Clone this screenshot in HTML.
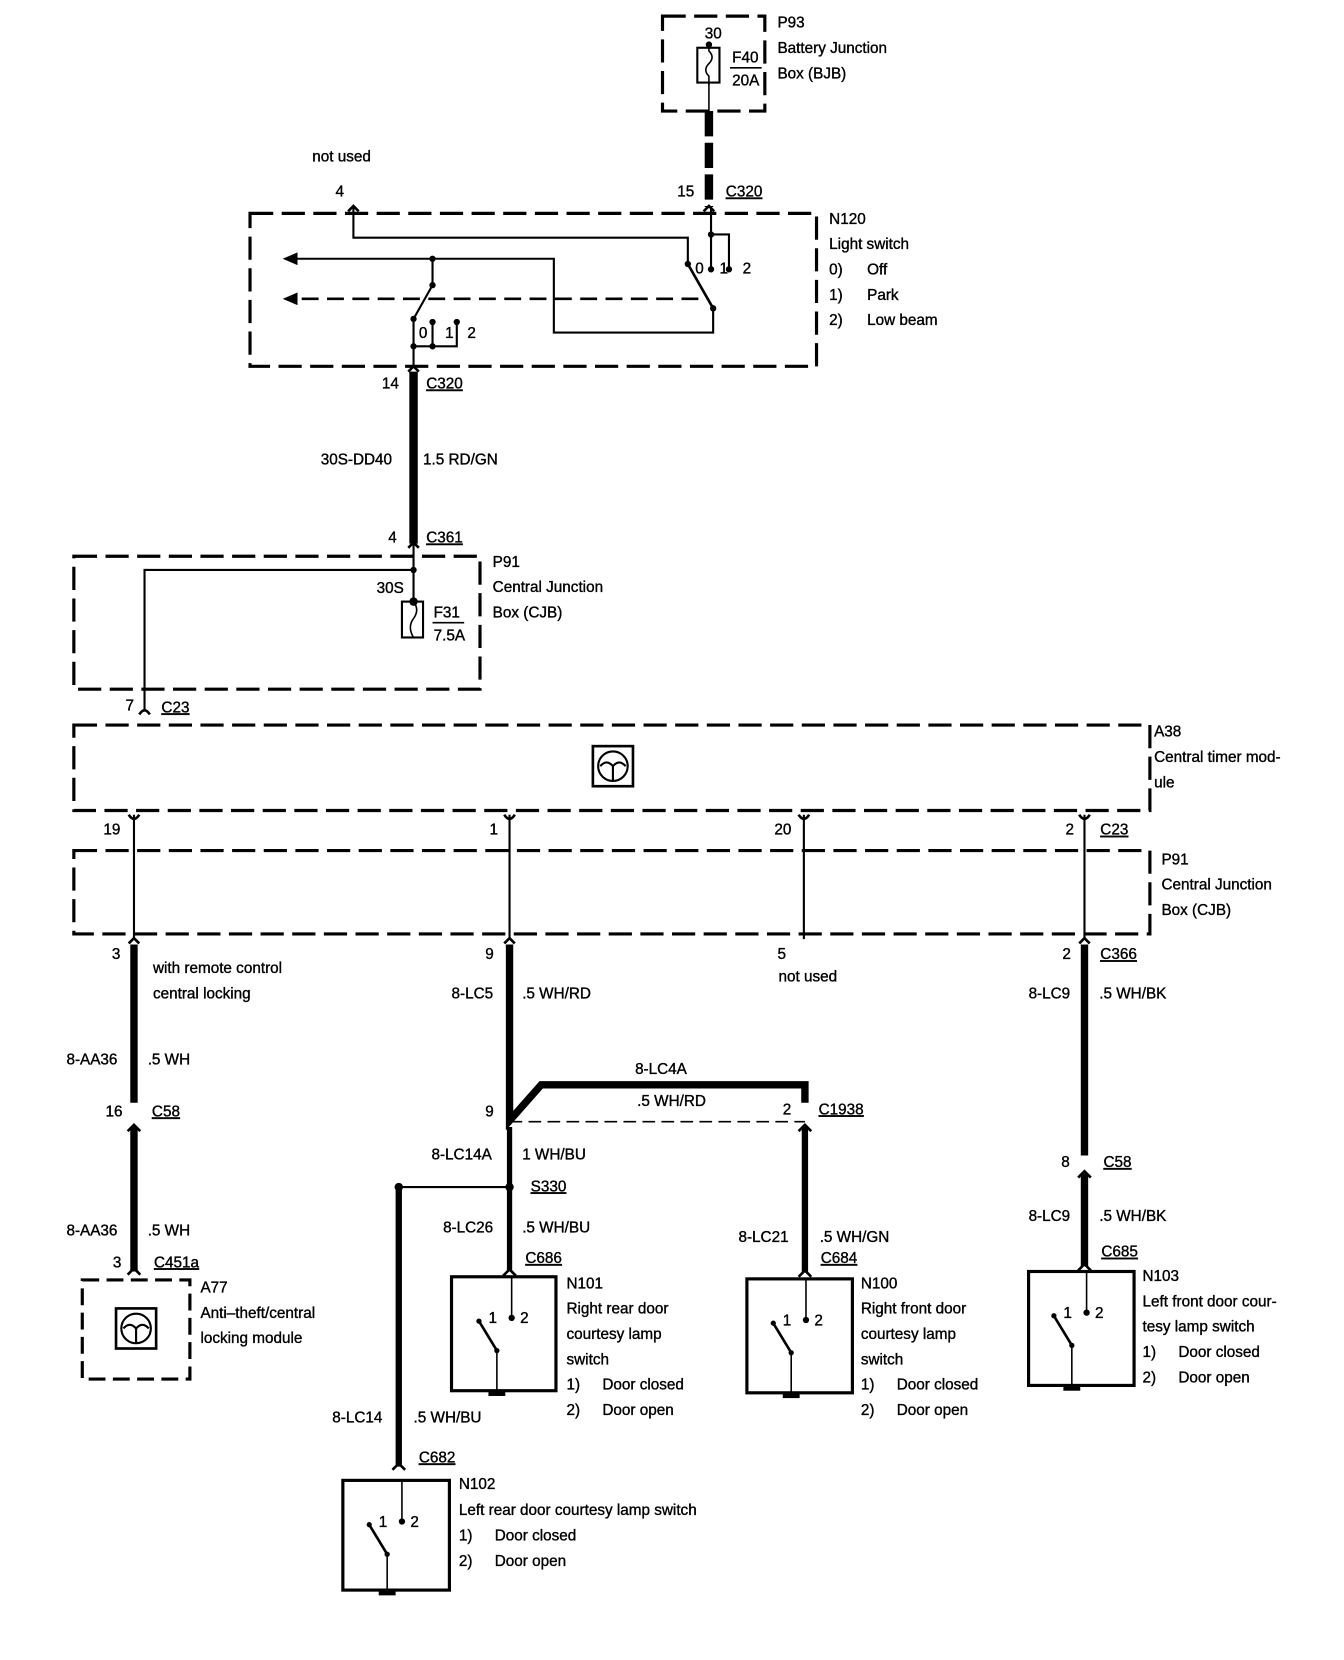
<!DOCTYPE html>
<html><head><meta charset="utf-8"><style>
html,body{margin:0;padding:0;background:#fff;}
svg{display:block;}
text{font-family:"Liberation Sans",Arial,sans-serif;font-size:14.5px;fill:#000;stroke:#000;stroke-width:0.35px;}
</style></head><body>
<svg width="1344" height="1660" viewBox="0 0 1274 1573" xmlns="http://www.w3.org/2000/svg">
<defs>
<g id="sw">
 <circle cx="0" cy="39" r="3"/>
 <line x1="0" y1="0" x2="0" y2="39" stroke="#000" stroke-width="1.5"/>
 <circle cx="-31" cy="42" r="2.5"/>
 <line x1="-31" y1="42" x2="-14" y2="70" stroke="#000" stroke-width="2.5"/>
 <circle cx="-14" cy="70" r="2.5"/>
 <text x="-22" y="44" font-size="14">1</text>
 <text x="8" y="44" font-size="14">2</text>
</g>
</defs>
<g fill="none" stroke="#000">
 <rect x="628" y="15" width="97" height="90" stroke-width="3" stroke-dasharray="22,8"/>
 <rect x="661" y="45" width="21" height="33" stroke-width="2"/>
 <path d="M672 42 L672 48 Q678 54 672 60 Q666 66 672 72 L672 80" stroke-width="1.5"/>
 <line x1="672" y1="78" x2="672" y2="105" stroke-width="1.5"/>
 <line x1="672" y1="105" x2="672" y2="196" stroke-width="8" stroke-dasharray="24,6"/>
 <line x1="692" y1="64" x2="722" y2="64" stroke-width="1.5"/>
 <rect x="237" y="202" width="537" height="145" stroke-width="3" stroke-dasharray="22,8"/>
 <path d="M335 196 L335 225 L652 225 L652 250" stroke-width="2"/>
 <path d="M652 250 L676 292" stroke-width="2.5"/>
 <path d="M674 196 L674 255 M674 222 L691 222 L691 255" stroke-width="2"/>
 <path d="M676 292 L676 315 L525 315 L525 245 L275 245" stroke-width="2"/>
 <path d="M662 283 L275 283" stroke-width="2.5" stroke-dasharray="16,8"/>
 <path d="M410 245 L410 270 L392 302 M392 305 L392 328 M410 305 L410 328 M433 305 L433 328 L392 328 M392 328 L392 347" stroke-width="2"/>
 <line x1="392" y1="352" x2="392" y2="515" stroke-width="8"/>
 <rect x="70" y="527" width="385" height="126" stroke-width="3" stroke-dasharray="22,8"/>
 <path d="M392 515 L392 570 M392 540 L137 540 L137 672" stroke-width="2"/>
 <rect x="381" y="570" width="20" height="34" stroke-width="2"/>
 <path d="M392 570 Q398 578 392 586 Q386 594 392 604" stroke-width="1.5"/>
 <line x1="410" y1="590" x2="440" y2="590" stroke-width="1.5"/>
 <rect x="70" y="687" width="1020" height="81" stroke-width="3" stroke-dasharray="22,8"/>
 <rect x="562" y="707" width="38" height="38" stroke-width="2.5"/>
 <circle cx="581" cy="726" r="14" stroke-width="2"/>
 <path d="M569 726 Q575 719 581 726 Q587 719 593 726 M581 726 L581 740" stroke-width="2"/>
 <rect x="70" y="806" width="1020" height="79" stroke-width="3" stroke-dasharray="22,8"/>
 <path d="M127 772 L127 890 M483 772 L483 890 M762 772 L762 890 M1028 772 L1028 890" stroke-width="2"/>
 <line x1="127" y1="895" x2="127" y2="1045" stroke-width="7"/>
 <line x1="127" y1="1068" x2="127" y2="1205" stroke-width="7"/>
 <rect x="78" y="1213" width="102" height="94" stroke-width="3" stroke-dasharray="16,7"/>
 <rect x="110" y="1240" width="38" height="38" stroke-width="2.5"/>
 <circle cx="129" cy="1259" r="14" stroke-width="2"/>
 <path d="M117 1259 Q123 1252 129 1259 Q135 1252 141 1259 M129 1259 L129 1273" stroke-width="2"/>
 <path d="M483 895 L483 1062 L513 1028 L763 1028 L763 1045" stroke-width="7"/>
 <line x1="483" y1="1063" x2="763" y2="1063" stroke-width="1.5" stroke-dasharray="12,6"/>
 <line x1="483" y1="1068" x2="483" y2="1205" stroke-width="5"/>
 <line x1="483" y1="1125" x2="378" y2="1125" stroke-width="2"/>
 <line x1="378" y1="1125" x2="378" y2="1390" stroke-width="6"/>
 <line x1="763" y1="1068" x2="763" y2="1205" stroke-width="6"/>
 <line x1="1028" y1="895" x2="1028" y2="1095" stroke-width="7"/>
 <line x1="1028" y1="1112" x2="1028" y2="1200" stroke-width="7"/>
 <rect x="428" y="1210" width="99" height="108" stroke-width="3"/>
 <rect x="708" y="1212" width="100" height="108" stroke-width="3"/>
 <rect x="975" y="1205" width="100" height="108" stroke-width="3"/>
 <rect x="325" y="1403" width="101" height="104" stroke-width="3"/>
 <path d="M667 200 L672 195 L677 200 M330 200 L335 195 L340 200 M387 352 L392 347 L397 352 M387 519 L392 514 L397 519 M132 677 Q137 669 142 677
  M122 772 Q127 780 132 772 M478 772 Q483 780 488 772 M757 772 Q762 780 767 772 M1023 772 Q1028 780 1033 772
  M122 894 L127 889 L132 894 M478 894 L483 889 L488 894 M1023 894 L1028 889 L1033 894
  M121 1072 L127 1066 L133 1072 M121 1208 L127 1202 L133 1208
  M757 1072 L763 1066 L769 1072 M1022 1116 L1028 1110 L1034 1116
  M477 1209 L483 1203 L489 1209 M757 1210 L763 1204 L769 1210 M1022 1204 L1028 1198 L1034 1204 M372 1393 L378 1387 L384 1393" stroke-width="2.5"/>
</g>
<g fill="#000">
 <circle cx="672" cy="42" r="3"/><circle cx="674" cy="222" r="3"/><circle cx="674" cy="255" r="3"/><circle cx="691" cy="255" r="3"/>
 <circle cx="652" cy="250" r="3"/><circle cx="676" cy="292" r="3"/>
 <circle cx="410" cy="245" r="3"/><circle cx="410" cy="270" r="3"/><circle cx="392" cy="302" r="3"/><circle cx="410" cy="305" r="3"/><circle cx="433" cy="305" r="3"/><circle cx="392" cy="328" r="3"/><circle cx="410" cy="328" r="3"/>
 <path d="M268 245 L282 239 L282 251 Z M268 283 L282 277 L282 289 Z"/>
 <circle cx="392" cy="540" r="3"/><circle cx="392" cy="570" r="4"/>
 <circle cx="483" cy="1125" r="4"/><circle cx="378" cy="1125" r="4"/>
</g>
<g stroke="#000" fill="#000">
 <use href="#sw" x="485" y="1210" stroke="none"/>
 <use href="#sw" x="764" y="1212" stroke="none"/>
 <use href="#sw" x="1030" y="1205" stroke="none"/>
 <use href="#sw" x="381" y="1403" stroke="none"/>
 <path d="M471 1280 L471 1318 M750 1282 L750 1320 M1016 1275 L1016 1313 M367 1473 L367 1507" stroke-width="1.5" fill="none"/>
 <rect x="463" y="1318" width="16" height="5" stroke="none"/>
 <rect x="742" y="1320" width="16" height="5" stroke="none"/>
 <rect x="1008" y="1313" width="16" height="5" stroke="none"/>
 <rect x="359" y="1507" width="16" height="5" stroke="none"/>
</g>
<g>
 <text x="737" y="26">P93</text><text x="737" y="50">Battery Junction</text><text x="737" y="74">Box (BJB)</text>
 <text x="668" y="36" font-size="14">30</text><text x="694" y="59">F40</text><text x="694" y="81">20A</text>
 <text x="296" y="153">not used</text><text x="318" y="186">4</text><text x="642" y="186">15</text>
 <text x="688" y="186" text-decoration="underline">C320</text>
 <text x="786" y="212">N120</text><text x="786" y="236">Light switch</text>
 <text x="786" y="260">0)</text><text x="822" y="260">Off</text>
 <text x="786" y="284">1)</text><text x="822" y="284">Park</text>
 <text x="786" y="308">2)</text><text x="822" y="308">Low beam</text>
 <text x="659" y="259">0</text><text x="682" y="259">1</text><text x="704" y="259">2</text>
 <text x="397" y="320">0</text><text x="422" y="320">1</text><text x="443" y="320">2</text>
 <text x="362" y="368">14</text><text x="404" y="368" text-decoration="underline">C320</text>
 <text x="304" y="440">30S-DD40</text><text x="401" y="440">1.5 RD/GN</text>
 <text x="368" y="514">4</text><text x="404" y="514" text-decoration="underline">C361</text>
 <text x="467" y="537">P91</text><text x="467" y="561">Central Junction</text><text x="467" y="585">Box (CJB)</text>
 <text x="357" y="562">30S</text><text x="411" y="585">F31</text><text x="411" y="607">7.5A</text>
 <text x="119" y="673">7</text><text x="153" y="675" text-decoration="underline">C23</text>
 <text x="1094" y="698">A38</text><text x="1094" y="722">Central timer mod-</text><text x="1094" y="746">ule</text>
 <text x="98" y="791">19</text><text x="464" y="791">1</text><text x="734" y="791">20</text><text x="1010" y="791">2</text>
 <text x="1043" y="791" text-decoration="underline">C23</text>
 <text x="1101" y="819">P91</text><text x="1101" y="843">Central Junction</text><text x="1101" y="867">Box (CJB)</text>
 <text x="106" y="909">3</text><text x="460" y="909">9</text><text x="737" y="909">5</text><text x="1007" y="909">2</text>
 <text x="1043" y="909" text-decoration="underline">C366</text>
 <text x="738" y="930">not used</text>
 <text x="145" y="922">with remote control</text><text x="145" y="946">central locking</text>
 <text x="63" y="1009">8-AA36</text><text x="140" y="1009">.5 WH</text>
 <text x="100" y="1058">16</text><text x="144" y="1058" text-decoration="underline">C58</text>
 <text x="63" y="1171">8-AA36</text><text x="140" y="1171">.5 WH</text>
 <text x="107" y="1201">3</text><text x="146" y="1201" text-decoration="underline">C451a</text>
 <text x="190" y="1225">A77</text><text x="190" y="1249">Anti–theft/central</text><text x="190" y="1273">locking module</text>
 <text x="428" y="946">8-LC5</text><text x="495" y="946">.5 WH/RD</text>
 <text x="602" y="1018">8-LC4A</text><text x="604" y="1048">.5 WH/RD</text>
 <text x="460" y="1058">9</text><text x="742" y="1056">2</text><text x="776" y="1056" text-decoration="underline">C1938</text>
 <text x="409" y="1099">8-LC14A</text><text x="495" y="1099">1 WH/BU</text>
 <text x="503" y="1129" text-decoration="underline">S330</text>
 <text x="420" y="1168">8-LC26</text><text x="495" y="1168">.5 WH/BU</text>
 <text x="498" y="1197" text-decoration="underline">C686</text>
 <text x="537" y="1221">N101</text><text x="537" y="1245">Right rear door</text><text x="537" y="1269">courtesy lamp</text><text x="537" y="1293">switch</text>
 <text x="537" y="1317">1)</text><text x="571" y="1317">Door closed</text><text x="537" y="1341">2)</text><text x="571" y="1341">Door open</text>
 <text x="700" y="1177">8-LC21</text><text x="777" y="1177">.5 WH/GN</text>
 <text x="778" y="1197" text-decoration="underline">C684</text>
 <text x="816" y="1221">N100</text><text x="816" y="1245">Right front door</text><text x="816" y="1269">courtesy lamp</text><text x="816" y="1293">switch</text>
 <text x="816" y="1317">1)</text><text x="850" y="1317">Door closed</text><text x="816" y="1341">2)</text><text x="850" y="1341">Door open</text>
 <text x="975" y="946">8-LC9</text><text x="1042" y="946">.5 WH/BK</text>
 <text x="1006" y="1106">8</text><text x="1046" y="1106" text-decoration="underline">C58</text>
 <text x="975" y="1157">8-LC9</text><text x="1042" y="1157">.5 WH/BK</text>
 <text x="1044" y="1191" text-decoration="underline">C685</text>
 <text x="1083" y="1214">N103</text><text x="1083" y="1238">Left front door cour-</text><text x="1083" y="1262">tesy lamp switch</text>
 <text x="1083" y="1286">1)</text><text x="1117" y="1286">Door closed</text><text x="1083" y="1310">2)</text><text x="1117" y="1310">Door open</text>
 <text x="315" y="1348">8-LC14</text><text x="392" y="1348">.5 WH/BU</text>
 <text x="397" y="1386" text-decoration="underline">C682</text>
 <text x="435" y="1411">N102</text><text x="435" y="1436">Left rear door courtesy lamp switch</text>
 <text x="435" y="1460">1)</text><text x="469" y="1460">Door closed</text><text x="435" y="1484">2)</text><text x="469" y="1484">Door open</text>
</g>
</svg>
</body></html>
